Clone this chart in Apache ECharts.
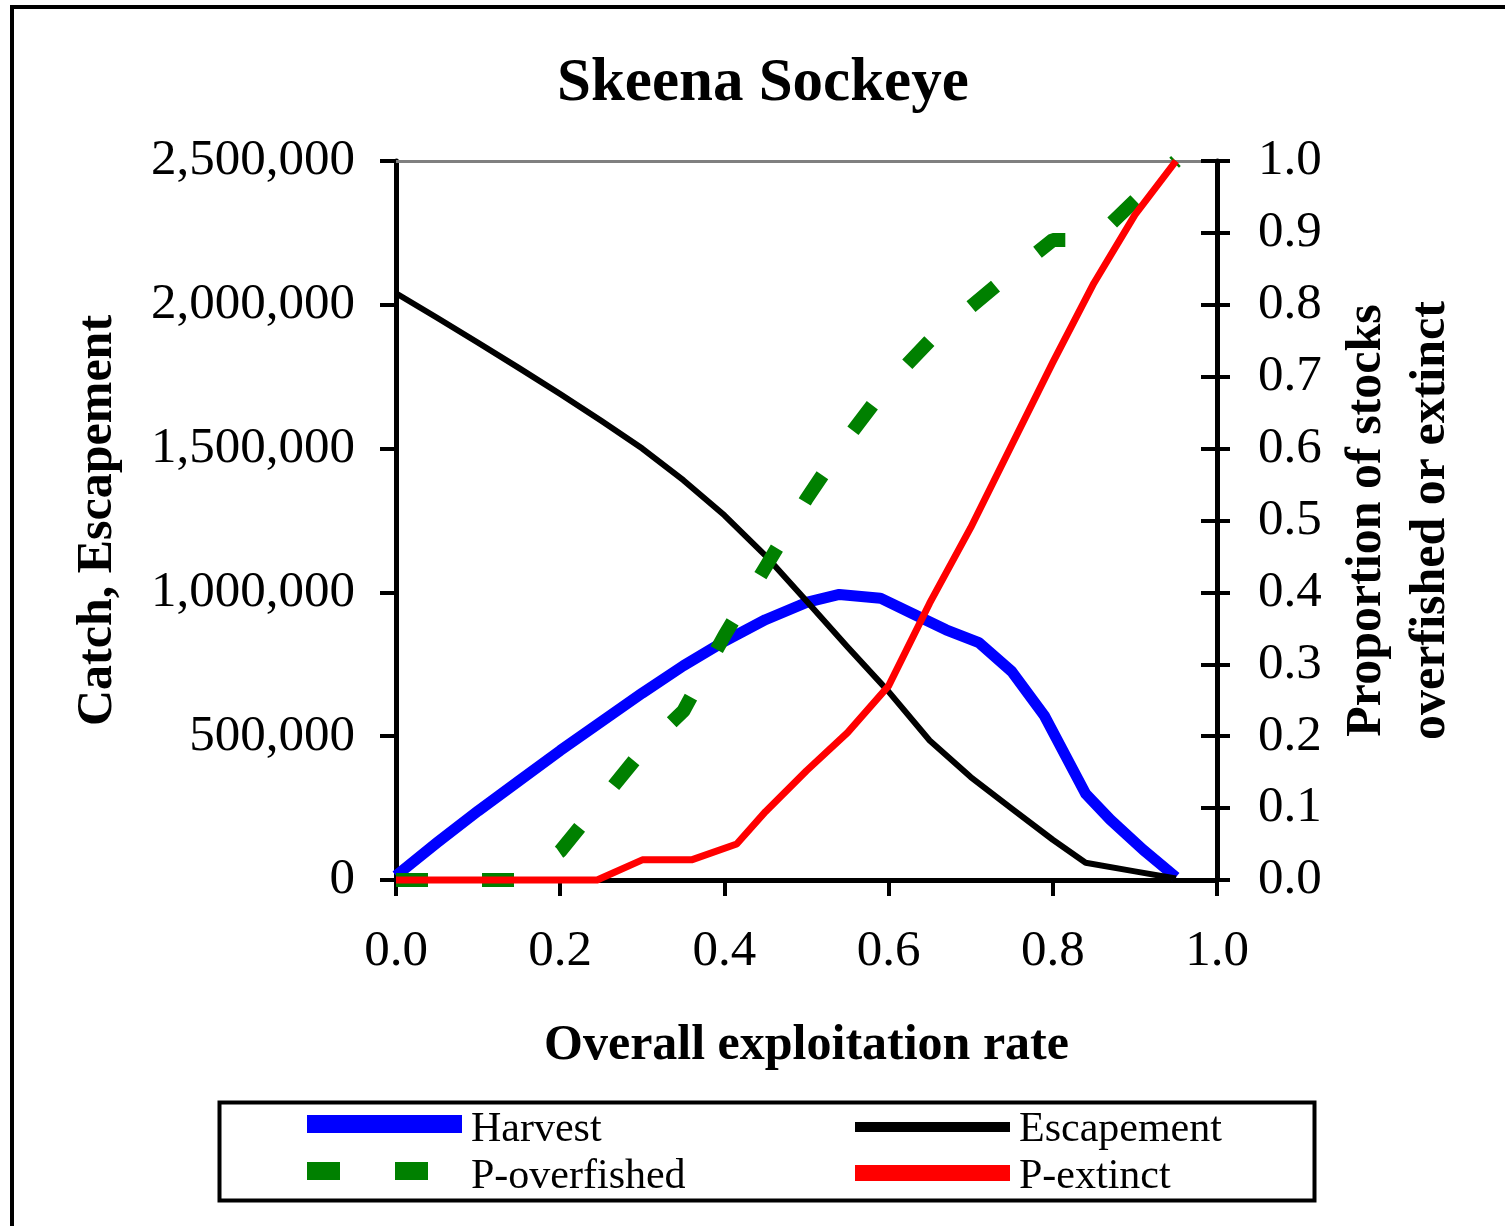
<!DOCTYPE html>
<html><head><meta charset="utf-8">
<script src="https://cdn.jsdelivr.net/npm/echarts@6/dist/echarts.min.js"></script>
<style>html,body{margin:0;padding:0;background:#fff}#c{width:1505px;height:1226px}</style>
</head><body><div id="c"></div>
<script>
const chartTitle = 'Skeena Sockeye';
const xAxisName = 'Overall exploitation rate';
const leftAxisName = 'Catch, Escapement';
const rightAxisName = ['Proportion of stocks', 'overfished or extinct'];
const seriesNames = ['Harvest', 'Escapement', 'P-overfished', 'P-extinct'];
const xTicks = [0, 0.2, 0.4, 0.6, 0.8, 1.0];

const harvestRates = [0, 0.05, 0.1, 0.15, 0.2, 0.25, 0.3, 0.35, 0.4, 0.45, 0.5, 0.54, 0.59, 0.63, 0.67, 0.71, 0.75, 0.79, 0.84, 0.87, 0.91, 0.95];
const harvest = [15000, 130000, 240000, 345000, 450000, 550000, 650000, 745000, 830000, 905000, 965000, 993000, 980000, 925000, 870000, 825000, 725000, 570000, 300000, 210000, 105000, 10000];

const escapementRates = [0, 0.05, 0.1, 0.15, 0.2, 0.25, 0.3, 0.35, 0.4, 0.45, 0.5, 0.55, 0.6, 0.65, 0.7, 0.75, 0.8, 0.84, 0.9, 0.95];
const escapement = [2040000, 1955000, 1868000, 1780000, 1690000, 1597000, 1500000, 1390000, 1268000, 1128000, 970000, 810000, 655000, 485000, 358000, 248000, 140000, 60000, 30000, 5000];

const overfishedRates = [0, 0.05, 0.1, 0.15, 0.2, 0.25, 0.3, 0.35, 0.4, 0.45, 0.5, 0.55, 0.6, 0.65, 0.7, 0.75, 0.8, 0.85, 0.9, 0.95];
const pOverfished = [0, 0, 0, 0, 0.04, 0.11, 0.18, 0.235, 0.34, 0.435, 0.53, 0.615, 0.69, 0.75, 0.797, 0.845, 0.89, 0.89, 0.945, 1.0];

const extinctRates = [0, 0.05, 0.1, 0.15, 0.2, 0.245, 0.3, 0.36, 0.415, 0.45, 0.5, 0.55, 0.6, 0.65, 0.7, 0.75, 0.8, 0.85, 0.9, 0.95];
const pExtinct = [0, 0, 0, 0, 0, 0, 0.028, 0.028, 0.05, 0.095, 0.152, 0.205, 0.27, 0.385, 0.49, 0.605, 0.72, 0.83, 0.925, 1.0];

const FONT = 'Liberation Serif';
const pairs = (xs, ys) => xs.map((x, i) => [x, ys[i]]);

const iconH = 'path://M0,0h0.01v0.01h-0.01zM0,5h155v18h-155zM154.99,39.99h0.01v0.01h-0.01z';
const iconE = 'path://M0,0h0.01v0.01h-0.01zM0,12h155v10h-155zM154.99,39.99h0.01v0.01h-0.01z';
const iconG = 'path://M0,0h0.01v0.01h-0.01zM0,5h33v18h-33zM88,5h33v18h-33zM154.99,39.99h0.01v0.01h-0.01z';
const iconR = 'path://M0,0h0.01v0.01h-0.01zM0,8h155v16h-155zM154.99,39.99h0.01v0.01h-0.01z';

const chart = echarts.init(document.getElementById('c'), null, {renderer: 'canvas'});
const legendCommon = {
  orient: 'vertical', top: 1109, itemWidth: 155, itemHeight: 40, itemGap: 5,
  selectedMode: false, padding: 0,
  itemStyle: {borderWidth: 0},
  textStyle: {fontFamily: FONT, fontSize: 42, color: '#000', lineHeight: 40, padding: [0, 0, 0, 4]}
};
const axisLineStyle = {color: '#000', width: 5};
const tickStyle = {color: '#000', width: 4};
chart.setOption({
  backgroundColor: '#fff',
  animation: false,
  title: {
    text: chartTitle, left: 557, top: 54, padding: 0,
    textStyle: {fontFamily: FONT, fontSize: 61, fontWeight: 'bold', color: '#000'}
  },
  grid: {left: 396, right: 288, top: 161, bottom: 346, containLabel: false},
  legend: [
    Object.assign({}, legendCommon, {left: 307, data: [{name: seriesNames[0], icon: iconH}, {name: seriesNames[2], icon: iconG}]}),
    Object.assign({}, legendCommon, {left: 855, data: [{name: seriesNames[1], icon: iconE}, {name: seriesNames[3], icon: iconR}]})
  ],
  xAxis: [
    {
      type: 'value', position: 'bottom', min: xTicks[0], max: xTicks[xTicks.length - 1], interval: 0.2,
      axisLine: {show: true, onZero: false, lineStyle: axisLineStyle},
      axisTick: {show: true, inside: false, length: 16, lineStyle: tickStyle},
      axisLabel: {fontFamily: FONT, fontSize: 51, color: '#000', margin: 46, formatter: v => v.toFixed(1)},
      splitLine: {show: false},
      name: xAxisName, nameLocation: 'middle', nameGap: 141,
      nameTextStyle: {fontFamily: FONT, fontSize: 50, fontWeight: 'bold', color: '#000'}
    },
    {
      type: 'value', position: 'top', min: 0, max: 1,
      axisLine: {show: true, onZero: false, lineStyle: {color: '#808080', width: 3}},
      axisTick: {show: false}, axisLabel: {show: false}, splitLine: {show: false}
    }
  ],
  yAxis: [
    {
      type: 'value', position: 'left', min: 0, max: 2500000, interval: 500000,
      axisLine: {show: true, onZero: false, lineStyle: axisLineStyle},
      axisTick: {show: true, inside: false, length: 16, lineStyle: tickStyle},
      axisLabel: {fontFamily: FONT, fontSize: 51, color: '#000', margin: 41, formatter: v => v.toLocaleString('en-US')},
      splitLine: {show: false},
      name: leftAxisName, nameLocation: 'middle', nameGap: 273, nameRotate: 90,
      nameTextStyle: {fontFamily: FONT, fontSize: 50, fontWeight: 'bold', color: '#000'}
    },
    {
      type: 'value', position: 'right', min: 0, max: 1, interval: 0.1,
      axisLine: {show: true, onZero: false, lineStyle: axisLineStyle},
      axisTick: {show: true, inside: false, length: 13, lineStyle: tickStyle},
      axisLabel: {fontFamily: FONT, fontSize: 51, color: '#000', margin: 41, formatter: v => v.toFixed(1)},
      splitLine: {show: false},
      name: rightAxisName.join('\n'), nameLocation: 'middle', nameGap: 118, nameRotate: 90,
      nameTextStyle: {fontFamily: FONT, fontSize: 50, fontWeight: 'bold', color: '#000', lineHeight: 64}
    },
    {
      type: 'value', position: 'right', min: 0, max: 1, interval: 0.1,
      axisLine: {show: false, onZero: false},
      axisTick: {show: true, inside: true, length: 16, lineStyle: tickStyle},
      axisLabel: {show: false}, splitLine: {show: false}
    }
  ],
  series: [
    {name: seriesNames[0], type: 'line', xAxisIndex: 0, yAxisIndex: 0, data: pairs(harvestRates, harvest),
     showSymbol: false, clip: false, color: '#0000ff', itemStyle: {borderWidth: 0},
     lineStyle: {color: '#0000ff', width: 11, join: 'round'}},
    {name: seriesNames[1], type: 'line', xAxisIndex: 0, yAxisIndex: 0, data: pairs(escapementRates, escapement),
     showSymbol: false, clip: false, color: '#000000', itemStyle: {borderWidth: 0},
     lineStyle: {color: '#000000', width: 6, join: 'round'}},
    {name: seriesNames[2], type: 'line', xAxisIndex: 0, yAxisIndex: 1, data: pairs(overfishedRates, pOverfished),
     showSymbol: false, clip: false, color: '#008000', itemStyle: {borderWidth: 0},
     lineStyle: {color: '#008000', width: 14, type: [32, 54], cap: 'butt'}},
    {name: seriesNames[3], type: 'line', xAxisIndex: 0, yAxisIndex: 1, data: pairs(extinctRates, pExtinct),
     showSymbol: false, clip: false, color: '#ff0000', itemStyle: {borderWidth: 0},
     lineStyle: {color: '#ff0000', width: 7, join: 'round'}}
  ],
  graphic: [
    {type: 'rect', left: 217, top: 1100, shape: {x: 0, y: 0, width: 1095, height: 98},
     style: {fill: 'none', stroke: '#000', lineWidth: 4}, silent: true},
    {type: 'polyline', shape: {points: [[12, 1226], [12, 7], [1505, 7]]},
     style: {fill: 'none', stroke: '#000', lineWidth: 4}, silent: true}
  ]
});
</script>
</body></html>
